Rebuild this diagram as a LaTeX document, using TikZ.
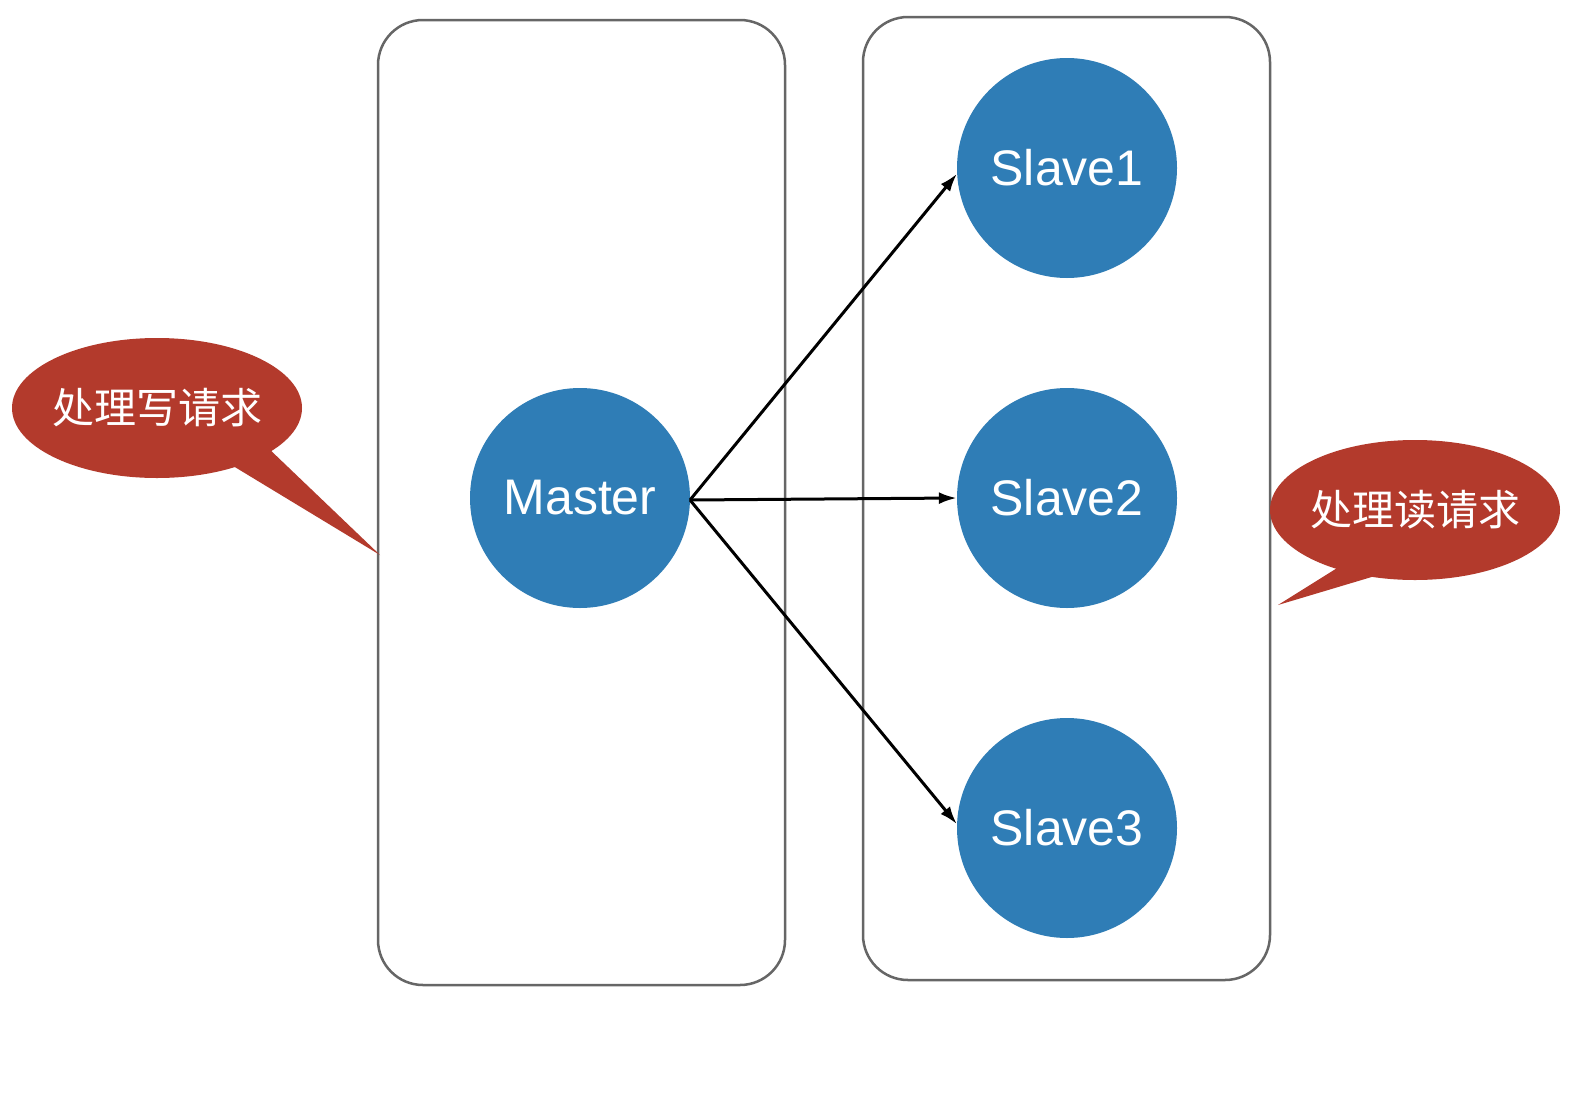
\documentclass[tikz,border=0pt]{standalone}
\usepackage{fontspec}
\setmainfont{Liberation Sans}
\newfontfamily\cjk{Noto Sans CJK SC}
\usetikzlibrary{shapes.geometric,arrows.meta}
\definecolor{nodeblue}{HTML}{2F7DB6}
\definecolor{calred}{HTML}{B33A2C}
\begin{document}
\begin{tikzpicture}[x=1pt,y=-1pt,
  box/.style={draw=gray!80!black,line width=2.5pt,rounded corners=45pt},
  srv/.style={circle,fill=nodeblue,minimum size=220pt,inner sep=0pt,text=white,font=\fontsize{50}{56}\selectfont},
  call/.style={fill=calred},
  ctext/.style={text=white,font=\cjk\fontsize{42}{48}\selectfont},
  arr/.style={-{Latex[length=18pt,width=12pt]},line width=3pt}]
\useasboundingbox (0,0) rectangle (1577,1119);
\fill[white] (0,0) rectangle (1577,1119);
\draw[box] (378,20) rectangle (785,985);
\draw[box] (863,17) rectangle (1270,980);
\node[srv] (m) at (580,498) {Master};
\node[srv] (s1) at (1067,168) {Slave1};
\node[srv] (s2) at (1067,498) {Slave2};
\node[srv] (s3) at (1067,828) {Slave3};
\coordinate (o) at (690,500);
\draw[arr] (o) -- (s1.183);
\draw[arr] (o) -- (s2.west);
\draw[arr] (o) -- (s3.178);
% left callout
\fill[call] (215,455) -- (380,555) -- (265,445) -- cycle;
\fill[call] (157,408) ellipse[x radius=145,y radius=70];
\node[ctext] (lt) at (157,408) {处理写请求};
% right callout
\fill[call] (1350,560) -- (1278,605) -- (1395,570) -- cycle;
\fill[call] (1415,510) ellipse[x radius=145,y radius=70];
\node[ctext] (rt) at (1415,510) {处理读请求};
\end{tikzpicture}
\end{document}
